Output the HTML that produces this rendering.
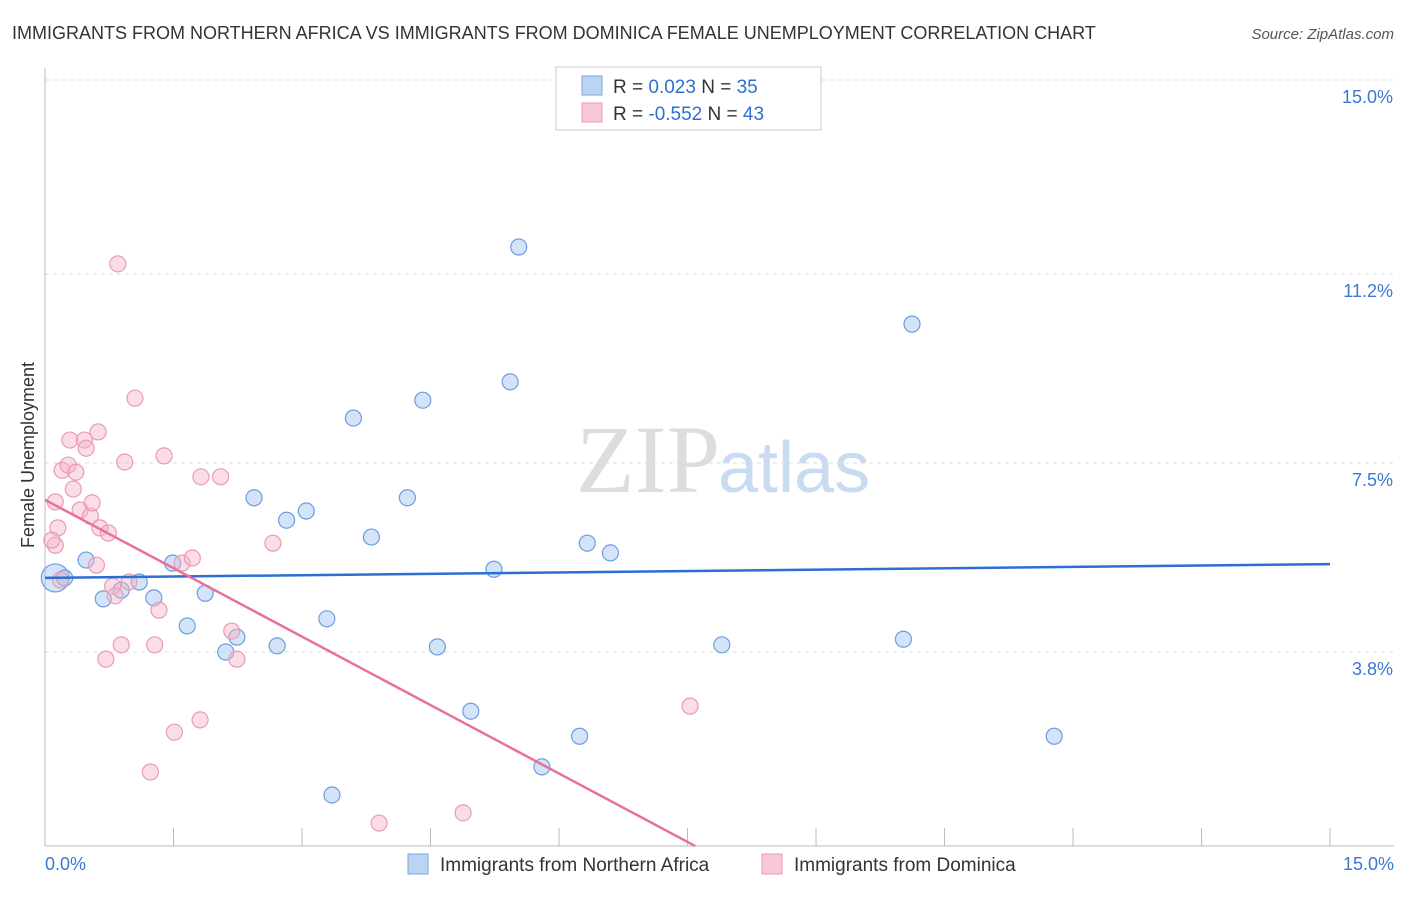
<!DOCTYPE html>
<html><head><meta charset="utf-8"><style>
body{margin:0;background:#fff;font-family:"Liberation Sans",sans-serif;}
</style></head><body>
<svg id="c" width="1406" height="892" xmlns="http://www.w3.org/2000/svg">
<text x="12" y="39" font-size="18" fill="#333">IMMIGRANTS FROM NORTHERN AFRICA VS IMMIGRANTS FROM DOMINICA FEMALE UNEMPLOYMENT CORRELATION CHART</text>
<text x="1394" y="39" font-size="15" fill="#555" font-style="italic" text-anchor="end">Source: ZipAtlas.com</text>
<text x="720" y="492" font-size="96" fill="#ddd" font-family="Liberation Serif" text-anchor="end">ZIP</text>
<text x="718" y="492" font-size="72" fill="#c9dbf0">atlas</text>
<text transform="translate(34,455) rotate(-90)" font-size="18" fill="#333" text-anchor="middle">Female Unemployment</text>
<g id="grid"></g><g id="pts"></g><g id="lines"></g>
<g>
<rect x="556" y="67" width="265" height="63" fill="#fff" stroke="#ccc"/>
<rect x="582" y="76" width="20" height="19" fill="#bcd4f3" stroke="#7aa7e0"/>
<rect x="582" y="103" width="20" height="19" fill="#f9c8d6" stroke="#ec9ab3"/>
<text x="613" y="93" font-size="19" fill="#333">R = <tspan fill="#2f6fd0">  0.023</tspan>   N = <tspan fill="#2f6fd0">35</tspan></text>
<text x="613" y="120" font-size="19" fill="#333">R = <tspan fill="#2f6fd0">-0.552</tspan>   N = <tspan fill="#2f6fd0">43</tspan></text>
</g>
<g>
<rect x="408" y="854" width="20" height="20" fill="#bcd4f3" stroke="#7aa7e0"/>
<text x="440" y="871" font-size="19" fill="#333">Immigrants from Northern Africa</text>
<rect x="762" y="854" width="20" height="20" fill="#f9c8d6" stroke="#ec9ab3"/>
<text x="794" y="871" font-size="19" fill="#333">Immigrants from Dominica</text>
</g>
</svg>
<script>
const yTicks=[15.0,11.2,7.5,3.8];
const yTickLabels=["15.0%","11.2%","7.5%","3.8%"];
const xTickLabels=["0.0%","15.0%"];
const blueX=[0.12,0.23,0.48,0.68,0.89,1.10,1.27,1.49,1.66,1.87,2.11,2.24,2.44,2.71,2.82,3.05,3.29,3.35,3.60,3.81,4.23,4.41,4.58,4.97,5.24,5.43,5.53,5.80,6.24,6.33,6.60,7.90,10.02,10.12,11.78];
const blueY=[5.25,5.25,5.60,4.84,5.01,5.17,4.86,5.54,4.31,4.95,3.80,4.09,6.82,3.92,6.38,6.56,4.45,1.00,8.38,6.05,6.82,8.73,3.90,2.64,5.42,9.09,11.73,1.55,2.15,5.93,5.74,3.94,4.05,10.22,2.15];
const pinkX=[0.12,0.12,0.15,0.20,0.27,0.29,0.33,0.36,0.41,0.46,0.48,0.53,0.55,0.60,0.62,0.64,0.71,0.74,0.79,0.82,0.85,0.89,0.93,0.98,1.05,1.23,1.28,1.33,1.39,1.51,1.60,1.72,1.81,1.82,2.05,2.18,2.24,2.66,3.90,4.88,7.53,0.08,0.18];
const pinkY=[5.89,6.74,6.23,7.36,7.46,7.95,6.99,7.32,6.58,7.95,7.79,6.46,6.72,5.50,8.11,6.23,3.66,6.13,5.09,4.90,11.40,3.94,7.52,5.17,8.77,1.45,3.94,4.62,7.64,2.23,5.54,5.64,2.47,7.23,7.23,4.21,3.66,5.93,0.45,0.65,2.74,5.99,5.21];
const blueTrend=[5.25,5.52];
const pinkTrend=[6.78,7.59];
const NS="http://www.w3.org/2000/svg";
const X=v=>45+v*85.67, Y=v=>80+(15-v)*51.07;
function mk(t,a,p){const e=document.createElementNS(NS,t);for(const k in a)e.setAttribute(k,a[k]);p.appendChild(e);return e;}
const g=document.getElementById('grid');
yTicks.forEach((t,i)=>{
 const l=mk('line',{x1:45,x2:1394,y1:Y(t),y2:Y(t),stroke:'#ddd','stroke-dasharray':'4,4'},g);
 
 
 const tx=mk('text',{x:1393,y:Y(t)+23,'font-size':18,fill:'#3a78d4','text-anchor':'end'},g);tx.textContent=yTickLabels[i];
 
 
});
mk('line',{x1:45,x2:45,y1:68,y2:846,stroke:'#bbb'},g);
mk('line',{x1:45,x2:1394,y1:846,y2:846,stroke:'#bbb'},g);
for(let i=0;i<=10;i++){mk('line',{x1:X(i*1.5),x2:X(i*1.5),y1:828,y2:846,stroke:'#bbb'},g);}
[[45,'start'],[1394,'end']].forEach((p,i)=>{const t=mk('text',{x:p[0],y:870,'font-size':18,fill:'#3a78d4','text-anchor':p[1]},g);t.textContent=xTickLabels[i];
 
 });
const pg=document.getElementById('pts');
blueX.forEach((x,i)=>{const c=mk('circle',{cx:X(x),cy:Y(blueY[i]),r:i==0?14:8,fill:'rgba(160,195,240,0.45)',stroke:'#6b9de0','stroke-width':1.2},pg);
 
 });
pinkX.forEach((x,i)=>{const c=mk('circle',{cx:X(x),cy:Y(pinkY[i]),r:8,fill:'rgba(245,180,200,0.45)',stroke:'#ea9bb4','stroke-width':1.2},pg);
 
 });
const lg=document.getElementById('lines');
const bl=mk('line',{x1:X(0),y1:Y(blueTrend[0]),x2:X(15),y2:Y(blueTrend[1]),stroke:'#2b6fd6','stroke-width':2.5},lg);


const pl=mk('line',{x1:X(0),y1:Y(pinkTrend[0]),x2:X(pinkTrend[1]),y2:Y(0),stroke:'#e8709a','stroke-width':2.5},lg);


</script>
</body></html>
